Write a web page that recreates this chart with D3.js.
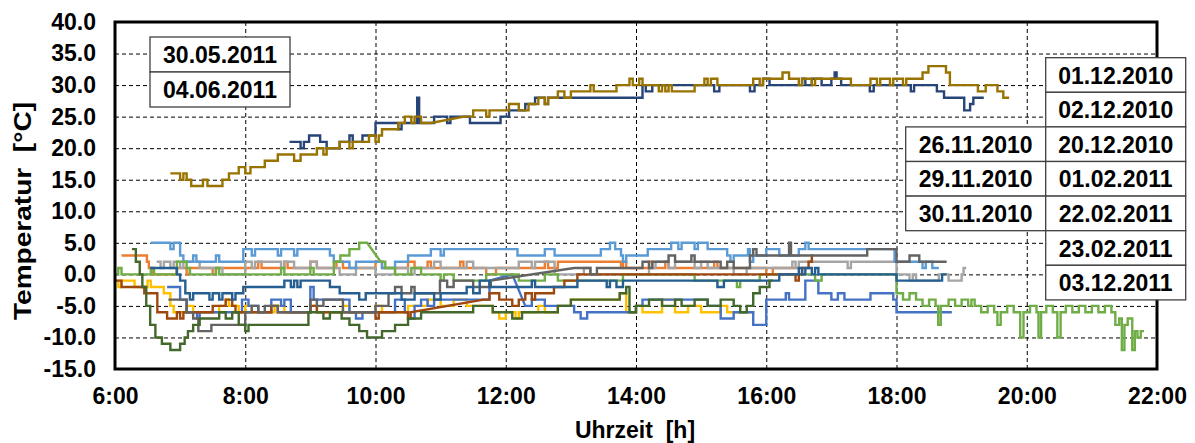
<!DOCTYPE html>
<html>
<head>
<meta charset="utf-8">
<script src="https://cdn.jsdelivr.net/npm/d3@7"></script>
<style>
body { margin: 0; background: #fff; }
text { font-family: "Liberation Sans", Arial, sans-serif; font-weight: bold; }
</style>
</head>
<body>
<div id="chart"></div>
<script>
// axis ticks
var xTicks = [6, 8, 10, 12, 14, 16, 18, 20, 22];
var yTicks = [-15, -10, -5, 0, 5, 10, 15, 20, 25, 30, 35, 40];

// dates shown in the boxes
var datesSummer = ["30.05.2011", "04.06.2011"];
var datesLeft = ["26.11.2010", "29.11.2010", "30.11.2010"];
var datesRight = ["01.12.2010", "02.12.2010", "20.12.2010", "01.02.2011", "22.02.2011", "23.02.2011", "03.12.2011"];

// measured values: [Uhrzeit in h, Temperatur in °C]
// a third value 1 means the logger had a gap -> straight line to this point
var sumGold = [[6.85,16],[7.0,15],[7.05,16],[7.1,15],[7.17,14],[7.35,15],[7.42,14],[7.65,15],[7.75,16],[7.9,17],[8.0,16],[8.08,17],[8.3,18],[8.5,19],[8.75,18],[8.85,19],[9.1,20],[9.2,19],[9.25,20],[9.45,21],[9.6,20],[9.65,21],[9.9,22],[10.0,21],[10.05,22],[10.1,23],[10.35,24],[10.45,25],[10.55,24],[10.6,25],[10.7,24],[10.85,24],[11.36,25,1],[11.5,26],[11.7,25],[11.75,26],[12.05,27],[12.2,26],[12.35,27],[12.5,28],[12.6,27],[12.65,28],[12.8,29],[12.9,28],[13.0,29],[13.3,30],[13.35,29],[13.7,30],[13.9,31],[13.95,30],[14.05,31],[14.1,30],[14.35,29],[14.4,30],[14.45,29],[14.5,30],[14.55,29],[14.9,30],[15.05,31],[15.1,30],[15.15,31],[15.25,30],[15.8,31],[15.9,30],[15.95,31],[16.25,32],[16.35,31],[16.5,30],[16.55,31],[16.7,30],[16.75,31],[17.3,30],[17.6,31],[17.7,30],[17.75,31],[17.9,30],[17.95,31],[18.1,30],[18.15,31],[18.4,32],[18.49,33],[18.76,32],[18.82,30],[19.25,29],[19.37,30],[19.55,29],[19.64,28],[19.73,28]];
var sumBlue = [[8.68,21],[8.85,20],[8.9,21],[8.98,22],[9.15,21],[9.25,20],[9.45,21],[9.6,22],[9.65,21],[9.8,22],[10.0,24],[10.35,23],[10.4,24],[10.64,28],[10.67,24],[10.9,25],[11.1,24],[11.15,25],[11.45,24],[11.92,25],[12.05,26],[12.3,27],[12.45,28],[12.6,27],[12.65,28],[14.1,30],[14.15,29],[14.25,30],[15.2,29],[15.28,30],[15.75,29],[15.82,30],[15.95,31],[16.05,30],[16.55,31],[16.6,30],[16.7,31],[16.85,30],[17.0,31],[17.05,32],[17.08,31],[17.15,30],[17.59,29],[17.65,30],[18.22,29],[18.27,30],[18.62,29],[18.73,28],[19.04,26],[19.13,27],[19.18,28],[19.34,28]];

var winBlue = [[6.8,-2],[7.0,-4],[7.1,-6],[7.26,-7],[7.3,-6],[7.9,-6],[7.95,-4],[8.05,-5],[8.2,-6],[8.4,-4],[8.55,-5],[8.6,-4],[8.7,-6],[9.0,-2],[9.05,-4],[9.6,-6],[9.7,-7],[9.8,-6],[10.3,-4],[10.45,-6],[10.5,-7],[10.6,-5],[10.7,-4],[10.8,-5],[10.9,-4],[11.5,-4],[11.75,-1],[12.1,0,1],[12.3,-5,1],[12.4,-4],[12.6,-5],[12.85,-5],[13.05,-6],[13.15,-7],[13.25,-6],[13.85,-6],[14.0,-5],[14.1,-4],[14.7,-4],[15.1,-5],[15.3,-7],[15.5,-6],[15.8,-8],[16.0,-4],[16.3,-3],[16.35,-4],[16.6,-1],[16.8,-3],[17.0,-4],[17.1,-3],[17.2,-4],[17.6,-3],[17.95,-4],[18.0,-6],[18.85,-6]];
var winOrange = [[6.1,3],[6.49,2],[6.52,1],[6.57,0],[6.95,1],[7.1,0],[7.15,1],[7.5,0],[7.55,1],[8.2,2],[8.25,1],[8.6,2],[8.65,1],[9.0,2],[9.1,1],[9.4,2],[9.5,1],[10.0,2],[10.1,1],[10.5,2],[10.6,1],[10.8,2],[10.85,1],[11.3,2],[11.35,1],[11.7,0],[11.85,1],[12.6,2],[12.65,1],[12.8,2],[13.77,1],[13.8,2],[13.85,1],[14.2,2],[14.25,1],[14.45,2],[14.5,1],[15.2,2],[15.25,1],[16.0,0],[16.1,1],[16.5,1]];
var winLightGray = [[6.64,2],[6.7,1],[6.75,2],[6.85,1],[6.9,2],[7.0,1],[7.05,2],[7.3,1],[7.65,0],[8.0,2],[8.1,1],[8.15,2],[8.55,1],[8.6,2],[8.75,1],[9.0,2],[9.1,1],[9.45,0],[9.7,1],[10.0,0],[10.3,1],[10.5,0],[10.6,1],[10.9,2],[11.0,1],[11.4,2],[11.5,1],[12.2,2],[12.4,1],[12.45,2],[12.75,0],[13.2,1],[13.3,0],[14.2,1],[14.3,2],[14.5,1],[14.6,2],[14.9,1],[15.0,2],[15.1,1],[15.5,0],[15.7,1],[16.4,2],[16.45,1],[16.5,2],[17.2,2],[17.25,1],[17.3,2],[18.0,0],[18.2,-1],[18.25,0],[18.3,-1],[18.65,0],[18.8,-1],[19.0,0],[19.03,1],[19.07,1]];
var winGold = [[6.0,-1],[6.05,-2],[6.1,-1],[6.3,-2],[6.5,-1],[6.55,-2],[6.75,-3],[6.85,-5],[6.9,-6],[7.1,-5],[7.2,-6],[7.6,-5],[7.7,-4],[7.75,-5],[7.9,-6],[8.0,-5],[8.1,-6],[8.45,-5],[8.6,-6],[9.0,-5],[9.1,-6],[9.5,-5],[9.6,-6],[10.0,-5],[10.1,-6],[10.5,-5],[10.8,-4],[11.0,-5],[11.2,-4],[11.4,-5],[11.8,-6],[11.9,-7],[12.0,-6],[12.15,-7],[12.2,-6],[12.5,-5],[12.6,-6],[12.8,-5],[13.0,-4],[13.75,-3],[13.85,-6],[14.0,-5],[14.1,-6],[14.4,-4],[14.6,-6],[14.8,-5],[15.0,-6],[15.3,-5],[15.4,-6],[15.82,-6]];
var winLightBlue = [[6.55,5],[6.85,4],[6.9,5],[7.0,3],[7.05,2],[7.2,3],[7.25,2],[7.55,3],[7.6,2],[7.97,4],[8.1,3],[8.15,4],[8.5,3],[8.55,4],[8.75,3],[8.8,4],[9.3,3],[9.36,2],[9.6,1],[9.7,2],[10.1,1],[10.3,2],[10.5,3],[10.85,4],[11.0,3],[11.05,4],[12.18,3],[12.6,4],[12.75,3],[13.46,4],[13.6,5],[13.68,4],[13.77,3],[13.8,2],[13.85,3],[14.18,4],[14.54,5],[14.65,4],[14.7,5],[14.9,4],[14.95,5],[15.1,4],[15.4,3],[15.45,2],[15.5,3],[15.72,4],[15.75,2],[15.8,3],[16.0,4],[16.2,3],[16.5,4],[16.6,5],[16.65,4],[17.97,2],[18.4,1],[18.45,2],[18.55,1],[18.65,1]];
var winGreen = [[6.0,0],[6.05,1],[6.1,0],[6.55,1],[6.6,0],[6.95,2],[7.1,1],[7.15,0],[7.55,1],[7.6,0],[8.55,1],[8.6,0],[9.0,1],[9.05,0],[9.36,2],[9.46,3],[9.6,4],[9.75,5],[9.87,5],[10.08,2,1],[10.15,1],[10.3,0],[10.55,1],[10.7,0],[11.0,-1],[11.05,0],[11.2,-1],[11.7,0],[12.2,-1],[12.6,0],[12.8,-1],[13.8,0],[14.9,-1],[15.55,-2],[15.6,-1],[15.9,0],[16.75,-1],[16.85,0],[18.0,-3],[18.1,-4],[18.2,-3],[18.3,-4],[18.4,-5],[18.5,-4],[18.6,-5],[18.64,-8],[18.68,-5],[18.8,-4],[18.9,-5],[19.0,-4],[19.1,-5],[19.15,-4],[19.2,-5],[19.3,-6],[19.4,-5],[19.5,-6],[19.55,-8],[19.6,-6],[19.7,-5],[19.8,-6],[19.9,-10],[19.95,-6],[20.05,-5],[20.15,-6],[20.18,-10],[20.22,-6],[20.3,-5],[20.4,-6],[20.47,-10],[20.52,-6],[20.6,-5],[20.7,-6],[20.8,-5],[20.9,-6],[21.0,-5],[21.1,-6],[21.2,-5],[21.3,-6],[21.36,-8],[21.42,-7],[21.46,-12],[21.5,-8],[21.55,-7],[21.62,-12],[21.66,-9],[21.7,-10],[21.75,-9],[21.8,-9]];
var winBrown = [[6.0,-1],[6.1,-2],[6.45,-3],[6.65,-6],[6.8,-7],[6.95,-6],[7.0,-7],[7.05,-6],[7.5,-5],[7.7,-4],[7.8,-5],[7.85,-6],[8.4,-5],[8.5,-6],[9.0,-5],[9.1,-6],[10.0,-7],[10.05,-6],[10.5,-7],[10.54,-6],[11.66,-4,1],[11.75,-3],[11.9,-4],[12.1,-5],[12.2,-4],[12.3,-3],[12.4,-4],[12.45,-3],[12.74,-2],[12.9,-1],[13.1,0],[16.4,0],[16.45,-1],[16.5,0],[16.55,1],[16.65,2],[16.7,3],[16.72,3]];
var winDarkGray = [[6.82,-4],[7.1,-6],[7.2,-7],[7.28,-9],[7.48,-8],[8.0,-6],[8.1,-5],[8.2,-6],[8.3,-5],[8.5,-6],[9.0,-4],[9.1,-5],[9.2,-4],[9.5,-6],[10.0,-5],[10.2,-3],[10.3,-2],[10.4,-3],[10.55,-2],[10.6,-3],[10.99,-1],[11.1,-2],[11.2,-1],[11.5,-2],[11.77,-1],[13.05,1,1],[13.3,0],[13.4,1],[14.1,2],[14.2,1],[14.25,2],[14.5,3],[14.6,2],[14.85,3],[14.9,2],[15.3,1],[15.4,2],[15.5,1],[15.75,3],[15.8,4],[15.85,3],[16.35,5],[16.38,3],[17.55,4],[18.0,2],[18.2,3],[18.35,2],[18.77,2]];
var winTeal = [[6.54,1],[6.95,0],[7.0,-1],[7.08,-3],[7.15,-4],[7.2,-3],[7.45,-4],[7.5,-3],[7.6,-4],[7.65,-3],[7.8,-4],[7.85,-3],[7.97,-2],[8.6,-1],[8.7,-2],[8.75,-1],[8.8,-2],[8.85,-1],[9.3,-2],[9.45,-3],[9.75,-4],[9.85,-3],[10.4,-4],[10.6,-3],[10.9,-4],[11.0,-3],[11.4,-2],[11.5,-3],[11.6,-1],[11.75,-2],[12.4,-1],[12.45,-2],[13.1,-1],[13.55,-2],[13.6,-1],[13.7,-2],[13.8,-1],[15.25,-2],[15.35,-1],[16.2,0],[16.5,1],[16.55,0],[16.6,1],[16.7,0],[16.75,1],[16.8,0],[18.0,-1],[18.7,0],[18.77,0]];
var winDarkGreen = [[6.26,4],[6.32,2],[6.38,0],[6.42,-2],[6.48,-5],[6.54,-8],[6.62,-10],[6.72,-11],[6.85,-12],[7.0,-11],[7.07,-10],[7.12,-9],[7.2,-8],[7.3,-7],[7.6,-6],[7.7,-7],[7.8,-6],[7.9,-8],[8.0,-9],[8.05,-8],[8.97,-6],[9.2,-7],[9.3,-6],[9.48,-7],[9.6,-8],[9.75,-9],[9.87,-10],[10.1,-9],[10.3,-8],[10.5,-7],[10.7,-6],[11.41,-6,1],[11.5,-5],[11.8,-6],[12.1,-7],[12.25,-6],[12.8,-5],[13.0,-4],[13.75,-3],[13.85,-2],[13.9,-6],[14.0,-5],[14.2,-4],[14.4,-5],[14.6,-4],[14.7,-5],[14.9,-4],[15.1,-5],[15.3,-4],[15.5,-5],[15.6,-6],[15.7,-5],[15.8,-3],[15.9,-2],[16.05,-1],[16.1,-1]];

var series = [
    {data: winGold, color: "#FFC000"},
    {data: winBlue, color: "#4472C4"},
    {data: winOrange, color: "#ED7D31"},
    {data: winLightGray, color: "#A5A5A5"},
    {data: winLightBlue, color: "#5B9BD5"},
    {data: winGreen, color: "#70AD47"},
    {data: winBrown, color: "#9E480E"},
    {data: winDarkGray, color: "#636363"},
    {data: winTeal, color: "#255E91"},
    {data: winDarkGreen, color: "#43682B"},
    {data: sumBlue, color: "#264478"},
    {data: sumGold, color: "#997300"}
];

var W = 1195, H = 443;
// plot area (window.top is reserved, so own names)
var pLeft = 115, pRight = 1157, pTop = 22, pBottom = 369;

var svg = d3.select("#chart").append("svg")
    .attr("width", W)
    .attr("height", H);

var x = d3.scaleLinear().domain([6, 22]).range([pLeft, pRight]);
var y = d3.scaleLinear().domain([-15, 40]).range([pBottom, pTop]);

// grid
svg.append("g")
    .attr("class", "grid")
    .attr("transform", "translate(0," + pBottom + ")")
    .call(d3.axisBottom(x).tickValues(xTicks.slice(1, -1)).tickSize(-(pBottom - pTop)).tickFormat(""));
svg.append("g")
    .attr("class", "grid")
    .attr("transform", "translate(" + pLeft + ",0)")
    .call(d3.axisLeft(y).tickValues(yTicks.slice(1, -1)).tickSize(-(pRight - pLeft)).tickFormat(""));
svg.selectAll(".grid .domain").remove();
svg.selectAll(".grid line")
    .attr("stroke", "#000")
    .attr("stroke-width", 1)
    .attr("stroke-dasharray", "4,3");

// step lines
function stepPoints(data) {
    var pts = [data[0]];
    for (var i = 1; i < data.length; i++) {
        if (!data[i][2]) pts.push([data[i][0], data[i - 1][1]]);
        pts.push(data[i]);
    }
    return pts;
}
var line = d3.line()
    .x(function (d) { return x(d[0]); })
    .y(function (d) { return y(d[1]); });

svg.append("g")
    .selectAll("path")
    .data(series)
    .enter()
    .append("path")
    .attr("d", function (s) { return line(stepPoints(s.data)); })
    .attr("fill", "none")
    .attr("stroke", function (s) { return s.color; })
    .attr("stroke-width", 2.4)
    .attr("stroke-linejoin", "miter");

// plot frame
svg.append("rect")
    .attr("x", pLeft)
    .attr("y", pTop)
    .attr("width", pRight - pLeft)
    .attr("height", pBottom - pTop)
    .attr("fill", "none")
    .attr("stroke", "#000")
    .attr("stroke-width", 3);

// axis labels
svg.append("g")
    .attr("class", "lab")
    .attr("transform", "translate(" + pLeft + ",0)")
    .call(d3.axisLeft(y).tickValues(yTicks).tickSize(0).tickPadding(19)
        .tickFormat(function (d) { return d.toFixed(1); }));
svg.append("g")
    .attr("class", "lab")
    .attr("transform", "translate(0," + pBottom + ")")
    .call(d3.axisBottom(x).tickValues(xTicks).tickSize(0).tickPadding(19)
        .tickFormat(function (d) { return d + ":00"; }));
svg.selectAll(".lab .domain").remove();
svg.selectAll(".lab .tick text")
    .attr("font-size", "23px")
    .attr("font-family", "Liberation Sans, Arial, sans-serif")
    .attr("font-weight", "bold")
    .attr("fill", "#000");

svg.append("text")
    .attr("x", 635)
    .attr("y", 438)
    .attr("text-anchor", "middle")
    .attr("font-size", "23px")
    .text("Uhrzeit\u00a0\u00a0[h]");

// y title is drawn a bit stretched along its length, like in the original picture
svg.append("text")
    .attr("transform", "translate(31,211) rotate(-90) scale(1.22,1)")
    .attr("text-anchor", "middle")
    .attr("font-size", "23px")
    .text("Temperatur\u00a0\u00a0[°C]");

// date boxes
function dateBoxes(dates, bx, by, bw, bh) {
    var g = svg.append("g");
    dates.forEach(function (d, i) {
        g.append("rect")
            .attr("x", bx)
            .attr("y", by + i * bh)
            .attr("width", bw)
            .attr("height", bh)
            .attr("fill", "#fff")
            .attr("stroke", "#404040")
            .attr("stroke-width", 1.3);
        g.append("text")
            .attr("x", bx + bw / 2)
            .attr("y", by + i * bh + bh / 2 + 8.5)
            .attr("text-anchor", "middle")
            .attr("font-size", "23px")
            .text(d);
    });
}
dateBoxes(datesSummer, 150, 37, 140, 35);
dateBoxes(datesLeft, 905.7, 126.9, 140, 34.6);
dateBoxes(datesRight, 1045.7, 57.7, 140, 34.6);
</script>
</body>
</html>
